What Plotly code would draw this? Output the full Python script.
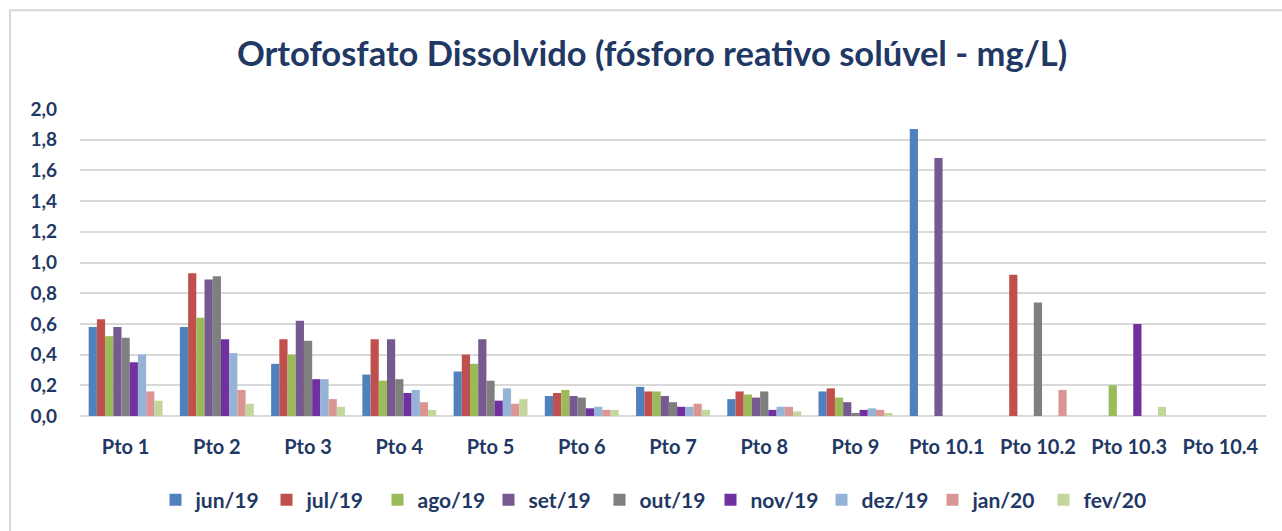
import plotly.graph_objects as go

categories = ["Pto 1", "Pto 2", "Pto 3", "Pto 4", "Pto 5", "Pto 6", "Pto 7", "Pto 8", "Pto 9",
              "Pto 10.1", "Pto 10.2", "Pto 10.3", "Pto 10.4"]

series_names = ["jun/19", "jul/19", "ago/19", "set/19", "out/19", "nov/19", "dez/19", "jan/20", "fev/20"]

jun19 = [0.58, 0.58, 0.34, 0.27, 0.29, 0.13, 0.19, 0.11, 0.16, 1.87, None, None, None]
jul19 = [0.63, 0.93, 0.50, 0.50, 0.40, 0.15, 0.16, 0.16, 0.18, None, 0.92, None, None]
ago19 = [0.52, 0.64, 0.40, 0.23, 0.34, 0.17, 0.16, 0.14, 0.12, None, None, 0.20, None]
set19 = [0.58, 0.89, 0.62, 0.50, 0.50, 0.13, 0.13, 0.12, 0.09, 1.68, None, None, None]
out19 = [0.51, 0.91, 0.49, 0.24, 0.23, 0.12, 0.09, 0.16, 0.02, None, 0.74, None, None]
nov19 = [0.35, 0.50, 0.24, 0.15, 0.10, 0.05, 0.06, 0.04, 0.04, None, None, 0.60, None]
dez19 = [0.40, 0.41, 0.24, 0.17, 0.18, 0.06, 0.06, 0.06, 0.05, None, None, None, None]
jan20 = [0.16, 0.17, 0.11, 0.09, 0.08, 0.04, 0.08, 0.06, 0.04, None, 0.17, None, None]
fev20 = [0.10, 0.08, 0.06, 0.04, 0.11, 0.04, 0.04, 0.03, 0.02, None, None, 0.06, None]

series_values = [jun19, jul19, ago19, set19, out19, nov19, dez19, jan20, fev20]

colors = ["#4F81BD", "#C0504D", "#9BBB59", "#76598F", "#7F7F7F", "#7030A0", "#95B3D7", "#D99694", "#C3D69B"]

y_ticks = [0.0, 0.2, 0.4, 0.6, 0.8, 1.0, 1.2, 1.4, 1.6, 1.8, 2.0]
y_tick_labels = ["0,0", "0,2", "0,4", "0,6", "0,8", "1,0", "1,2", "1,4", "1,6", "1,8", "2,0"]

TXT = "#1F3864"
FONT = "Lato"

fig = go.Figure()
for name, vals, col in zip(series_names, series_values, colors):
    fig.add_trace(go.Bar(
        x=categories, y=vals, name=name,
        marker=dict(color=col, line=dict(width=0)),
    ))

W, H = 1282, 531
L, R, T, B = 80, 16, 109, 114
pw = W - L - R
ph = H - T - B

fig.update_layout(
    width=W, height=H,
    margin=dict(l=L, r=R, t=T, b=B),
    paper_bgcolor="white", plot_bgcolor="white",
    barmode="group", bargap=0.19, bargroupgap=0,
    font=dict(family=FONT, color=TXT),
    title=dict(text="<b>Ortofosfato Dissolvido (fósforo reativo solúvel - mg/L)</b>",
               x=652 / W, xanchor="center", y=1 - 54 / H, yanchor="middle",
               font=dict(family=FONT, size=34.5, color=TXT)),
    xaxis=dict(showgrid=False, showline=False, ticks="",
               tickfont=dict(family=FONT, size=20, color=TXT, weight="bold"),
               ticklabelstandoff=17),
    yaxis=dict(range=[0, 2.0], tickvals=y_ticks, ticktext=y_tick_labels,
               showgrid=True, gridcolor="#D9D9D9", gridwidth=2,
               zeroline=True, zerolinecolor="#D9D9D9", zerolinewidth=2,
               showline=False, ticks="",
               tickfont=dict(family=FONT, size=19, color=TXT, weight="bold"),
               ticklabelstandoff=22),
    legend=dict(orientation="h", x=(655 - L) / pw, xanchor="center",
                y=(417 - 500) / ph, yanchor="middle",
                font=dict(family=FONT, size=21, color=TXT, weight="bold"),
                entrywidth=66, entrywidthmode="pixels",
                bgcolor="rgba(0,0,0,0)"),
    shapes=[dict(type="rect", xref="paper", yref="paper",
                 x0=(10 - L) / pw, x1=1.1, y0=-0.6, y1=1 + (T - 10) / ph,
                 line=dict(color="#D9D9D9", width=2), fillcolor="rgba(0,0,0,0)", layer="below")],
)

fig.write_html("out.html", config={"displayModeBar": False},
               post_script="document.body.style.margin='0';document.body.style.overflow='hidden';")
